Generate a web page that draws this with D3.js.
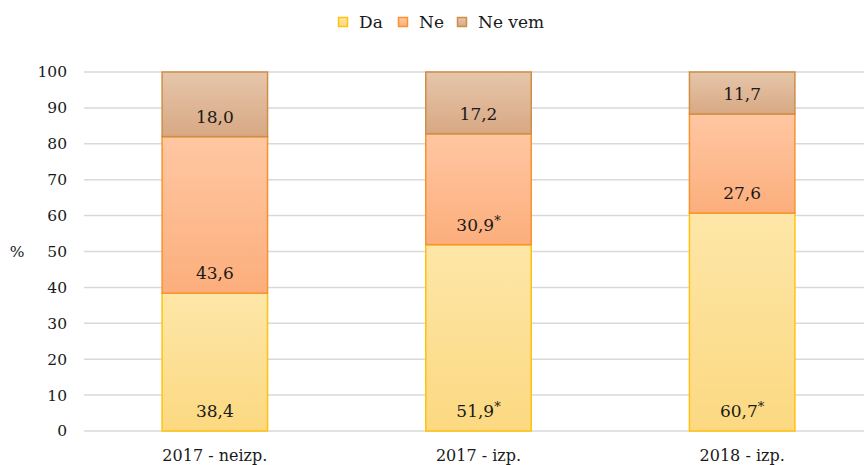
<!DOCTYPE html>
<html>
<head>
<meta charset="utf-8">
<script src="https://cdn.jsdelivr.net/npm/d3@7"></script>
<style>
  body { margin: 0; background: #fff; }
  svg text { font-family: "DejaVu Serif", "Liberation Serif", serif; fill: #1a1a1a; }
</style>
</head>
<body>
<div id="chart"></div>
<script>
// data
var categories = ["2017 - neizp.", "2017 - izp.", "2018 - izp."];
var seriesNames = ["Da", "Ne", "Ne vem"];
var daValues = [38.4, 51.9, 60.7];
var neValues = [43.6, 30.9, 27.6];
var nevemValues = [18.0, 17.2, 11.7];
// which labels carry the significance star
var daStar = [false, true, true];
var neStar = [false, true, false];
var nevemStar = [false, false, false];
var yTicks = [0, 10, 20, 30, 40, 50, 60, 70, 80, 90, 100];

var width = 864, height = 465;

var svg = d3.select("#chart")
  .append("svg")
  .attr("width", width)
  .attr("height", height);

var defs = svg.append("defs");
// gradient fills like the office chart
var styles = [
  { id: "gDa", top: "#fde6a8", bottom: "#fcd981", stroke: "#ffc20e" },
  { id: "gNe", top: "#ffc7a2", bottom: "#fcae7c", stroke: "#f7932f" },
  { id: "gNv", top: "#e6c6ab", bottom: "#d8a883", stroke: "#cf8e45" }
];
styles.forEach(function(s) {
  var g = defs.append("linearGradient")
    .attr("id", s.id)
    .attr("x1", 0).attr("y1", 0).attr("x2", 0).attr("y2", 1);
  g.append("stop").attr("offset", "0%").attr("stop-color", s.top);
  g.append("stop").attr("offset", "100%").attr("stop-color", s.bottom);
});

var x = d3.scaleBand()
  .domain(categories)
  .range([83, 874])
  .paddingInner(0.6)
  .paddingOuter(0.3);

var y = d3.scaleLinear()
  .domain([0, 100])
  .range([431, 72]);

// grid lines
svg.append("g")
  .selectAll("line")
  .data(yTicks)
  .enter()
  .append("line")
  .attr("x1", 84)
  .attr("x2", width)
  .attr("y1", function(d) { return y(d); })
  .attr("y2", function(d) { return y(d); })
  .attr("stroke", "#d9d9d9")
  .attr("stroke-width", 1.5);

// y tick labels
svg.append("g")
  .selectAll("text")
  .data(yTicks)
  .enter()
  .append("text")
  .attr("x", 67)
  .attr("y", function(d) { return y(d); })
  .attr("dy", "0.35em")
  .attr("text-anchor", "end")
  .style("font-size", "15.5px")
  .text(function(d) { return d; });

svg.append("text")
  .attr("x", 17)
  .attr("y", y(50))
  .attr("dy", "0.35em")
  .attr("text-anchor", "middle")
  .style("font-size", "15.5px")
  .text("%");

// stack the data
var rows = categories.map(function(c, i) {
  return { cat: c, "Da": daValues[i], "Ne": neValues[i], "Ne vem": nevemValues[i] };
});
var stars = { "Da": daStar, "Ne": neStar, "Ne vem": nevemStar };
var stack = d3.stack().keys(seriesNames)(rows);

var layers = svg.selectAll(".layer")
  .data(stack)
  .enter()
  .append("g")
  .attr("class", "layer");

layers.selectAll("rect")
  .data(function(d, i) { return d.map(function(p) { return { p: p, s: i }; }); })
  .enter()
  .append("rect")
  .attr("x", function(d) { return x(d.p.data.cat); })
  .attr("width", x.bandwidth())
  .attr("y", function(d) { return y(d.p[1]); })
  .attr("height", function(d) { return y(d.p[0]) - y(d.p[1]); })
  .attr("fill", function(d) { return "url(#" + styles[d.s].id + ")"; })
  .attr("stroke", function(d) { return styles[d.s].stroke; })
  .attr("stroke-width", 1.5);

// value labels, near the base of each segment
layers.each(function(layer, si) {
  var key = layer.key;
  d3.select(this).selectAll("text")
    .data(layer)
    .enter()
    .append("text")
    .attr("x", function(p) { return x(p.data.cat) + x.bandwidth() / 2; })
    .attr("y", function(p) { return y(p[0]) - 20; })
    .attr("dy", "0.35em")
    .attr("text-anchor", "middle")
    .style("font-size", "17px")
    .each(function(p, i) {
      var t = d3.select(this);
      t.append("tspan").text(d3.format(".1f")(p.data[key]).replace(".", ","));
      if (stars[key][i]) {
        t.append("tspan")
          .attr("dy", "-0.45em")
          .style("font-size", "13px")
          .text("*");
      }
    });
});

// category labels
svg.append("g")
  .selectAll("text")
  .data(categories)
  .enter()
  .append("text")
  .attr("x", function(d) { return x(d) + x.bandwidth() / 2; })
  .attr("y", 455)
  .attr("dy", "0.35em")
  .attr("text-anchor", "middle")
  .style("font-size", "16px")
  .text(function(d) { return d; });

// legend
var legendX = [343, 403, 462];
var legend = svg.append("g")
  .selectAll("g")
  .data(seriesNames)
  .enter()
  .append("g")
  .attr("transform", function(d, i) { return "translate(" + legendX[i] + ",22)"; });

legend.append("rect")
  .attr("x", -4.5).attr("y", -4.5)
  .attr("width", 9).attr("height", 9)
  .attr("fill", function(d, i) { return "url(#" + styles[i].id + ")"; })
  .attr("stroke", function(d, i) { return styles[i].stroke; })
  .attr("stroke-width", 1.5);

legend.append("text")
  .attr("x", 16)
  .attr("dy", "0.35em")
  .style("font-size", "17px")
  .text(function(d) { return d; });
</script>
</body>
</html>
